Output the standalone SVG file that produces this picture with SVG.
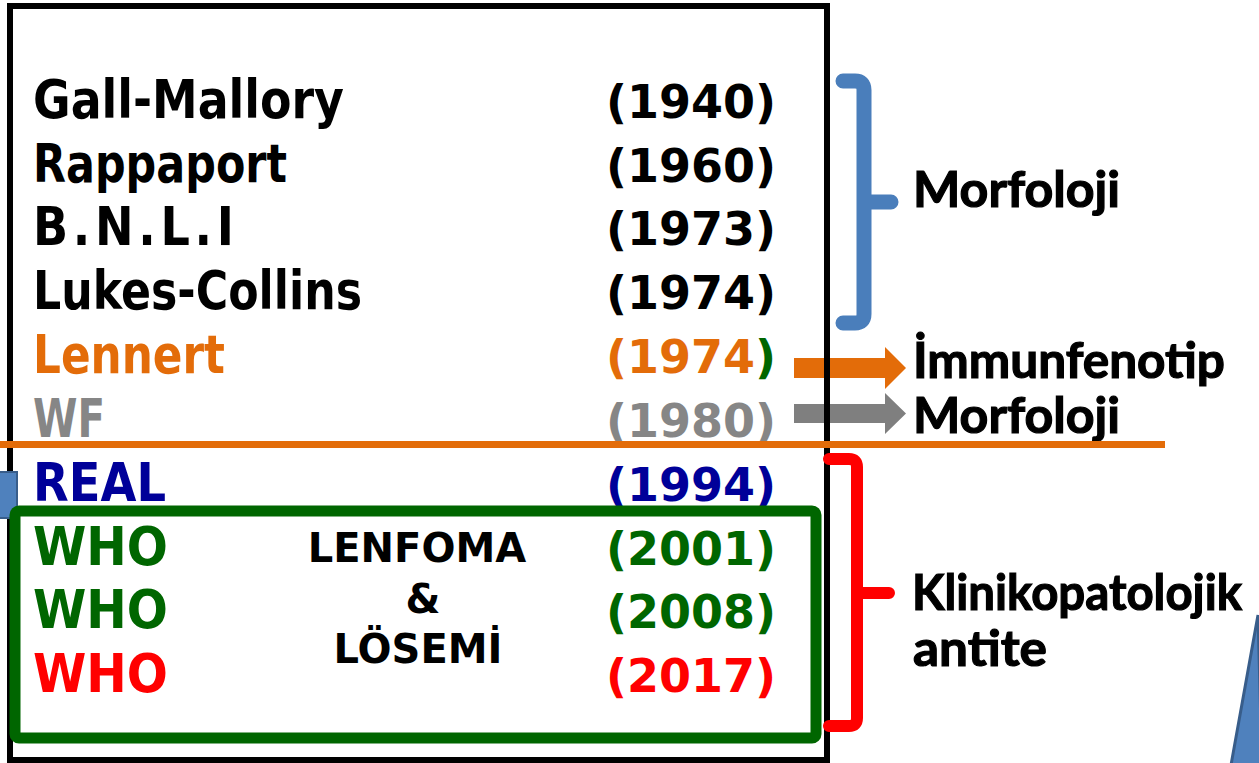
<svg xmlns="http://www.w3.org/2000/svg" width="1259" height="763" viewBox="0 0 1259 763">
  <style>
    text { font-family: "DejaVu Sans", "Liberation Sans", sans-serif; font-weight: bold; }
    .name { font-size: 53px; }
    .year { font-size: 46px; text-anchor: end; }
    .label { font-family: Lato, "DejaVu Sans", sans-serif; font-weight: bold; font-size: 50px; fill: #000; stroke: #000; stroke-width: 1.2px; }
    .mid { font-size: 40px; fill: #000; text-anchor: middle; }
    .k { fill: #000; }
    .or { fill: #E36C09; }
    .gy { fill: #868686; }
    .bl { fill: #000099; }
    .gr { fill: #006600; }
    .rd { fill: #FF0000; }
    .brace { fill: none; stroke-linecap: round; stroke-linejoin: round; }
  </style>

  <rect width="1259" height="763" fill="#fff"/>

  <!-- connectors: arrows to the method labels -->
  <g id="connectors">
    <polygon fill="#E36C09" points="794,358 885,358 885,347 906,368 885,389 885,378 794,378"/>
    <polygon fill="#7F7F7F" points="794,404 885,404 885,393 906,413.5 885,434 885,423 794,423"/>
  </g>

  <!-- outer frame of the classification list -->
  <g id="frame">
    <rect x="10" y="6" width="817" height="754" fill="none" stroke="#000" stroke-width="6"/>
  </g>

  <!-- side tab on the left edge -->
  <g id="left-tab">
    <rect x="-2" y="472" width="19" height="46" fill="#4F81BD" stroke="#385D8A" stroke-width="2"/>
  </g>

  <!-- corner shape at bottom right -->
  <g id="corner-shape">
    <polygon points="1258,615 1262,765 1231,765" fill="#4F81BD" stroke="#385D8A" stroke-width="3"/>
  </g>

  <!-- classification names -->
  <g id="names">
    <text class="name k" x="33" y="118" textLength="311" lengthAdjust="spacingAndGlyphs">Gall-Mallory</text>
    <text class="name k" x="33" y="182" textLength="254" lengthAdjust="spacingAndGlyphs">Rappaport</text>
    <text class="name k" transform="translate(33,245) scale(0.87,1)" x="0" y="0" textLength="231" lengthAdjust="spacing">B.N.L.I</text>
    <text class="name k" x="33" y="309" textLength="329" lengthAdjust="spacingAndGlyphs">Lukes-Collins</text>
    <text class="name or" x="33" y="373" textLength="192" lengthAdjust="spacingAndGlyphs">Lennert</text>
    <text class="name gy" x="33" y="437" textLength="72" lengthAdjust="spacingAndGlyphs">WF</text>
    <text class="name bl" x="33" y="501" textLength="133" lengthAdjust="spacingAndGlyphs">REAL</text>
    <text class="name gr" x="33" y="565" textLength="135" lengthAdjust="spacingAndGlyphs">WHO</text>
    <text class="name gr" x="33" y="628" textLength="135" lengthAdjust="spacingAndGlyphs">WHO</text>
    <text class="name rd" x="33" y="692" textLength="135" lengthAdjust="spacingAndGlyphs">WHO</text>
  </g>

  <!-- years -->
  <g id="years">
    <text class="year k" x="776" y="118">(1940)</text>
    <text class="year k" x="776" y="182">(1960)</text>
    <text class="year k" x="776" y="245">(1973)</text>
    <text class="year k" x="776" y="309">(1974)</text>
    <text class="year" x="776" y="373"><tspan class="or">(1974</tspan><tspan class="gr">)</tspan></text>
    <text class="year gy" x="776" y="437">(1980)</text>
    <text class="year bl" x="776" y="501">(1994)</text>
    <text class="year gr" x="776" y="565">(2001)</text>
    <text class="year gr" x="776" y="628">(2008)</text>
    <text class="year rd" x="776" y="692">(2017)</text>
  </g>

  <!-- WHO group box -->
  <g id="who-box">
    <rect x="15" y="511" width="801" height="227" rx="4" fill="none" stroke="#006600" stroke-width="11"/>
    <text class="mid" x="417" y="562">LENFOMA</text>
    <text class="mid" x="423" y="613">&amp;</text>
    <text class="mid" x="418" y="663">LÖSEMİ</text>
  </g>

  <!-- morphology brace -->
  <g id="brace-morfoloji">
    <path class="brace" stroke="#4A7EBB" stroke-width="15" d="M843,81 H855 Q864,81 864,90 V314 Q864,323 855,323 H843 M864,202 H891"/>
    <text class="label" x="913" y="207" textLength="207" lengthAdjust="spacingAndGlyphs">Morfoloji</text>
  </g>

  <!-- arrow labels -->
  <g id="label-immunfenotip">
    <text class="label" x="913" y="378" textLength="312" lengthAdjust="spacingAndGlyphs">İmmunfenotip</text>
  </g>
  <g id="label-morfoloji-2">
    <text class="label" x="913" y="433" textLength="207" lengthAdjust="spacingAndGlyphs">Morfoloji</text>
  </g>

  <!-- clinicopathological brace -->
  <g id="brace-klinik">
    <path class="brace" stroke="#FF0000" stroke-width="12" d="M829,459 H849 Q857,459 857,467 V718 Q857,726 849,726 H829 M857,593 H889"/>
    <text class="label" x="912" y="610" font-size="47" textLength="330" lengthAdjust="spacingAndGlyphs">Klinikopatolojik</text>
    <text class="label" x="913" y="666" textLength="134" lengthAdjust="spacingAndGlyphs">antite</text>
  </g>

  <!-- divider between the older and newer schemes -->
  <g id="divider">
    <line x1="0" y1="444.5" x2="1165" y2="444.5" stroke="#E36C09" stroke-width="7"/>
  </g>
</svg>
